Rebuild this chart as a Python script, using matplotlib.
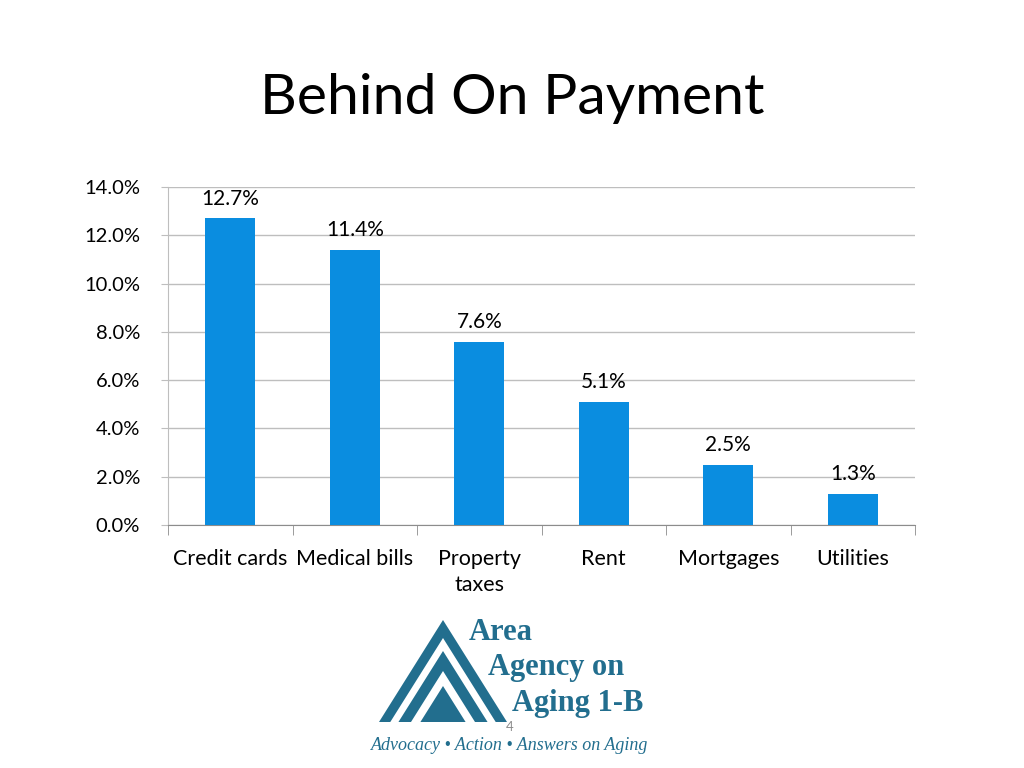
import matplotlib
matplotlib.use("Agg")
import matplotlib.pyplot as plt
from matplotlib.patches import Polygon
from matplotlib.ticker import FuncFormatter, MultipleLocator

categories = ["Credit cards", "Medical bills", "Property\ntaxes", "Rent", "Mortgages", "Utilities"]
values = [12.7, 11.4, 7.6, 5.1, 2.5, 1.3]
title = "Behind On Payment"

plt.rcParams['font.family'] = ['Lato', 'DejaVu Sans']

W, H = 1024, 768
fig = plt.figure(figsize=(W / 100, H / 100), dpi=100)
fig.patch.set_facecolor('white')

def fx(x):
    return x / W

def fy(y):
    return 1 - y / H

ax = fig.add_axes([fx(168), fy(525), fx(915) - fx(168), fy(187) - fy(525)])
bar_color = '#0A8DE0'
xs = list(range(len(categories)))
bars = ax.bar(xs, values, width=0.4, color=bar_color, zorder=3)
ax.set_xlim(-0.5, len(categories) - 0.5)
ax.set_ylim(0, 14)
ax.yaxis.set_major_locator(MultipleLocator(2))
ax.yaxis.set_major_formatter(FuncFormatter(lambda v, p: f"{v:.1f}%"))
ax.grid(axis='y', color='#BEBEBE', linewidth=1.0, zorder=0)
ax.set_axisbelow(True)
for s in ['top', 'right']:
    ax.spines[s].set_visible(False)
ax.spines['left'].set_color('#BEBEBE')
ax.spines['bottom'].set_color('#8C8C8C')
ax.tick_params(axis='y', length=5, color='#BEBEBE', labelsize=14.5, pad=15, labelcolor='black')
ax.set_xticks(xs)
ax.set_xticklabels(categories, fontsize=15.5, va='top', linespacing=1.4)
ax.tick_params(axis='x', length=0, pad=17)
# category boundary ticks
ax.set_xticks([i - 0.5 for i in range(len(categories) + 1)], minor=True)
ax.tick_params(axis='x', which='minor', length=7, color='#8C8C8C')

for b, v in zip(bars, values):
    ax.annotate(f"{v:.1f}%", (b.get_x() + b.get_width() / 2, v), xytext=(0, 7),
                textcoords='offset points', ha='center', va='bottom', fontsize=15)

fig.text(fx(512), fy(99), title, ha='center', va='center', fontsize=41)

# logo
logo = '#226E8E'
apex_x, base_y = 443, 722
slope = 64 / 102
for apex_y, col in [(620, logo), (638, 'white'), (651, logo), (671, 'white'), (686, logo)]:
    hw = (base_y - apex_y) * slope
    pts = [(fx(apex_x), fy(apex_y)), (fx(apex_x - hw), fy(base_y)), (fx(apex_x + hw), fy(base_y))]
    fig.patches.append(Polygon(pts, closed=True, facecolor=col, edgecolor='none',
                               transform=fig.transFigure, figure=fig))

serif = ['Liberation Serif', 'DejaVu Serif']
fig.text(fx(469), fy(633), "Area", fontsize=22, fontweight='bold', color=logo, family=serif,
         ha='left', va='center')
fig.text(fx(488), fy(668), "Agency on", fontsize=22, fontweight='bold', color=logo, family=serif,
         ha='left', va='center')
fig.text(fx(512), fy(704), "Aging 1-B", fontsize=22, fontweight='bold', color=logo, family=serif,
         ha='left', va='center')
fig.text(fx(510), fy(745), "Advocacy \u2022 Action \u2022 Answers on Aging", fontsize=13,
         style='italic', color=logo, family=serif, ha='center', va='center')
fig.text(fx(510), fy(727), "4", fontsize=9.5, color='#8C8C8C', ha='center', va='center')

fig.savefig("out.png", dpi=100, facecolor='white')
